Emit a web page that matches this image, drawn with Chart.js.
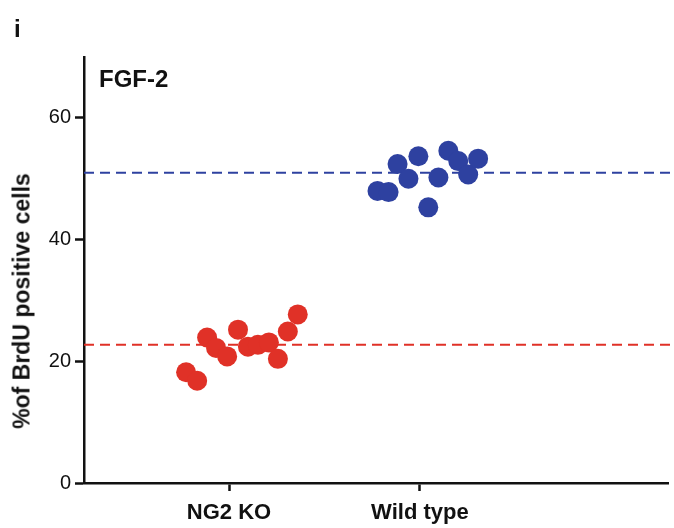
<!DOCTYPE html>
<html>
<head>
<meta charset="utf-8">
<script src="https://cdn.jsdelivr.net/npm/chart.js@4/dist/chart.umd.min.js"></script>
<style>
  body { margin: 0; background: #fff; }
  #wrap { position: relative; width: 674px; height: 528px; }
  .lbl { position: absolute; font-family: "Liberation Sans", Arial, sans-serif; font-weight: bold; color: #111; white-space: nowrap; }
  #ytitle { left: 22px; top: 301px; font-size: 23px; transform: translate(-50%, -50%) rotate(-90deg); }
</style>
</head>
<body>
<div id="wrap">
  <canvas id="chart" width="674" height="528"></canvas>
  <div class="lbl" style="left:14px; top:15px; font-size:24px;">i</div>
  <div class="lbl" style="left:99px; top:65px; font-size:24px;">FGF-2</div>
  <div class="lbl" id="ytitle">%of BrdU positive cells</div>
</div>
<script>
// Group labels and where they sit on the x axis
const groupLabels = ['NG2 KO', 'Wild type'];
const groupPos = [1, 2];
const yTicks = [0, 20, 40, 60];

// NG2 KO points (x = jittered position, y = % BrdU positive)
const koX = [0.775, 0.833, 0.885, 0.932, 0.99, 1.047, 1.099, 1.151, 1.209, 1.256, 1.308, 1.36];
const koY = [18.2, 16.8, 23.9, 22.2, 20.8, 25.2, 22.4, 22.7, 23.1, 20.4, 24.9, 27.7];

// Wild type points
const wtX = [1.778, 1.836, 1.883, 1.94, 1.992, 2.044, 2.097, 2.149, 2.201, 2.253, 2.305];
const wtY = [48.0, 47.8, 52.4, 50.0, 53.7, 45.3, 50.2, 54.6, 52.9, 50.7, 53.3];

// Group means (dashed lines)
const koMean = 22.7;
const wtMean = 51.0;

const RED = '#e03127';
const BLUE = '#2e41a0';
const X_MIN = 0.24, X_MAX = 3.3;
const LINE_END = 3.33;

const toPts = (xs, ys) => xs.map((x, i) => ({ x: x, y: ys[i] }));

new Chart(document.getElementById('chart'), {
    type: 'scatter',
    data: {
        datasets: [
            {
                data: toPts(koX, koY),
                backgroundColor: RED,
                borderWidth: 0,
                pointRadius: 10,
                order: 1
            },
            {
                data: toPts(wtX, wtY),
                backgroundColor: BLUE,
                borderWidth: 0,
                pointRadius: 10,
                order: 1
            },
            {
                type: 'line',
                data: [{ x: X_MIN, y: koMean }, { x: LINE_END, y: koMean }],
                borderColor: RED,
                borderWidth: 2,
                borderDash: [10, 6],
                pointRadius: 0,
                clip: false,
                order: 2
            },
            {
                type: 'line',
                data: [{ x: X_MIN, y: wtMean }, { x: LINE_END, y: wtMean }],
                borderColor: BLUE,
                borderWidth: 2,
                borderDash: [10, 6],
                pointRadius: 0,
                clip: false,
                order: 2
            }
        ]
    },
    options: {
        responsive: false,
        animation: false,
        layout: { autoPadding: false, padding: { top: 57, right: 6, left: 0, bottom: 0 } },
        plugins: {
            legend: { display: false },
            tooltip: { enabled: false }
        },
        scales: {
            x: {
                type: 'linear',
                min: X_MIN,
                max: X_MAX,
                afterBuildTicks(scale) {
                    scale.ticks = groupPos.map(v => ({ value: v }));
                },
                afterFit(scale) { scale.height = 45; },
                border: { color: '#111', width: 2.5 },
                grid: { drawOnChartArea: false, tickLength: 8, tickColor: '#111', tickWidth: 2.5 },
                ticks: {
                    color: '#111',
                    padding: 9,
                    maxRotation: 0,
                    font: { family: 'Liberation Sans', size: 22, weight: 'bold' },
                    callback: (v) => groupLabels[groupPos.indexOf(v)]
                }
            },
            y: {
                min: 0,
                max: 70,
                afterBuildTicks(scale) {
                    scale.ticks = yTicks.map(v => ({ value: v }));
                },
                afterFit(scale) { scale.width = 84; },
                border: { color: '#111', width: 2.5 },
                grid: { drawOnChartArea: false, tickLength: 9, tickColor: '#111', tickWidth: 2.5 },
                ticks: {
                    color: '#111',
                    padding: 4,
                    font: { family: 'Liberation Sans', size: 20 }
                }
            }
        }
    }
});
</script>
</body>
</html>
